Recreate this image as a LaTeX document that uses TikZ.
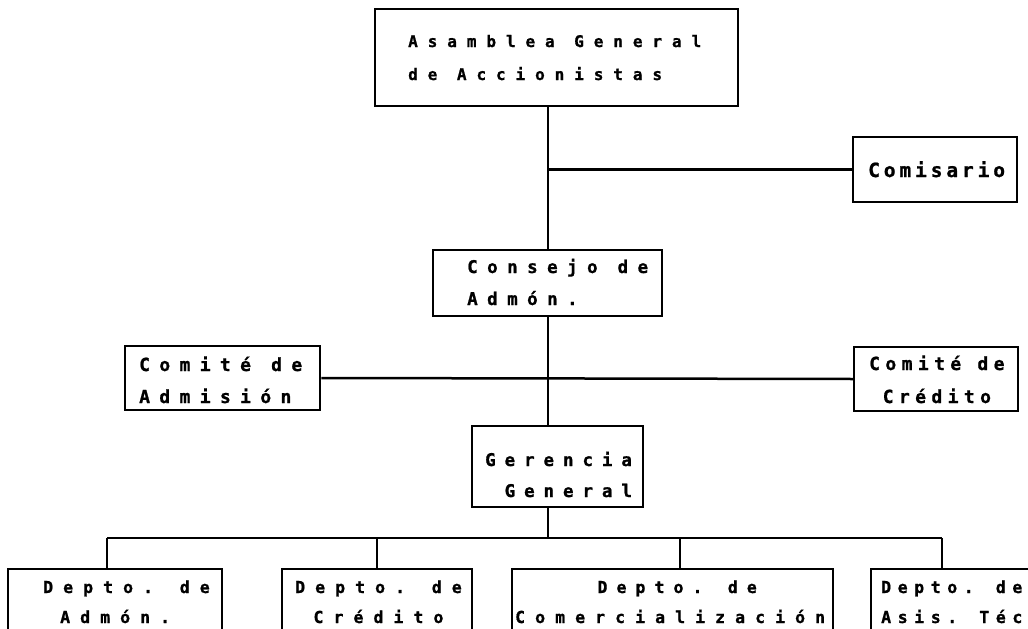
\documentclass[tikz,border=0pt]{standalone}
\usepackage{fontspec}
\setmainfont{DejaVu Sans Mono}[BoldFont={DejaVu Sans Mono Bold},BoldFeatures={FakeBold=1}]
\newcommand{\fAsam}{\bfseries\fontsize{16}{33}\selectfont\addfontfeature{LetterSpace=62}}
\newcommand{\fComis}{\bfseries\fontsize{19.5}{33}\selectfont\addfontfeature{LetterSpace=20}}
\newcommand{\fCons}{\bfseries\fontsize{17.5}{32}\selectfont\addfontfeature{LetterSpace=54}}
\newcommand{\fAdmis}{\bfseries\fontsize{18}{32}\selectfont\addfontfeature{LetterSpace=52}}
\newcommand{\fCred}{\bfseries\fontsize{18}{33}\selectfont\addfontfeature{LetterSpace=30}}
\newcommand{\fGer}{\bfseries\fontsize{17.5}{31}\selectfont\addfontfeature{LetterSpace=51}}
\newcommand{\fDep}{\bfseries\fontsize{16.5}{30}\selectfont\addfontfeature{LetterSpace=61}}
\newcommand{\fDepB}{\bfseries\fontsize{16.5}{30}\selectfont\addfontfeature{LetterSpace=40}}
\begin{document}
\begin{tikzpicture}[x=1pt,y=-1pt,
  box/.style={draw, line width=2.5pt, rectangle, inner sep=0pt},
  lbl/.style={inner sep=0pt, anchor=base west},
  conn/.style={line width=2.5pt}]
\useasboundingbox (0,0) rectangle (1028,629);
\clip (0,0) rectangle (1028,629);
% boxes
\node[box, minimum width=363pt, minimum height=97pt] (asamblea) at (556.5,57.5) {};
\node[box, minimum width=164pt, minimum height=65pt] (comisario) at (935,169.5) {};
\node[box, minimum width=229pt, minimum height=66pt] (consejo) at (547.5,283) {};
\node[box, minimum width=195pt, minimum height=64pt] (admision) at (222.5,378) {};
\node[box, minimum width=164pt, minimum height=64pt] (credito) at (936,379) {};
\node[box, minimum width=171pt, minimum height=81pt] (gerencia) at (557.5,466.5) {};
\node[box, minimum width=214pt, minimum height=140pt] (d1) at (115,639) {};
\node[box, minimum width=190pt, minimum height=140pt] (d2) at (377,639) {};
\node[box, minimum width=321pt, minimum height=140pt] (d3) at (672.5,639) {};
\node[box, minimum width=229pt, minimum height=140pt] (d4) at (985.5,639) {};
% texts (anchored at the baseline of the last line)
\node[lbl, align=left, font=\fAsam] (tasamblea) at (408,80) {Asamblea General\\de Accionistas};
\node[lbl, font=\fComis] (tcomisario) at (868,177) {Comisario};
\node[lbl, align=left, font=\fCons] (tconsejo) at (467,305) {Consejo de\\Admón.};
\node[lbl, align=left, font=\fAdmis] (tadmision) at (139,403) {Comité de\\Admisión};
\node[lbl, align=center, font=\fCred] (tcredito) at (869,403) {Comité de\\Crédito};
\node[lbl, align=right, font=\fGer] (tgerencia) at (485,497) {Gerencia\\General};
\node[lbl, align=left, font=\fDep] (td1) at (43,623) {Depto. de\\\hspace*{17pt}Admón.};
\node[lbl, align=center, font=\fDep] (td2) at (295,623) {Depto. de\\Crédito};
\node[lbl, align=center, font=\fDep] (td3) at (515,623) {\hspace*{14pt}{\addfontfeature{LetterSpace=55}Depto. de}\\Comercialización};
\node[lbl, align=left, font=\fDepB] (td4) at (881,623) {Depto. de\\Asis. Téc};
% connectors
\coordinate (spine) at (548,0);
\draw[conn] (asamblea.south -| spine) -- (consejo.north -| spine);
\draw[conn] (spine |- comisario.west) -- (comisario.west);
\draw[conn] (consejo.south -| spine) -- (gerencia.north -| spine);
\draw[conn] (admision.east) -- (credito.west);
\coordinate (bus) at (548,538);
\draw[conn] (gerencia.south -| spine) -- (bus);
\coordinate (b1) at (107,538);
\coordinate (b2) at (377,538);
\coordinate (b3) at (680,538);
\coordinate (b4) at (942,538);
\draw[conn] (b1) -- (b4);
\draw[conn] (b1) -- (b1 |- d1.north);
\draw[conn] (b2) -- (b2 |- d2.north);
\draw[conn] (b3) -- (b3 |- d3.north);
\draw[conn] (b4) -- (b4 |- d4.north);
\end{tikzpicture}
\end{document}
